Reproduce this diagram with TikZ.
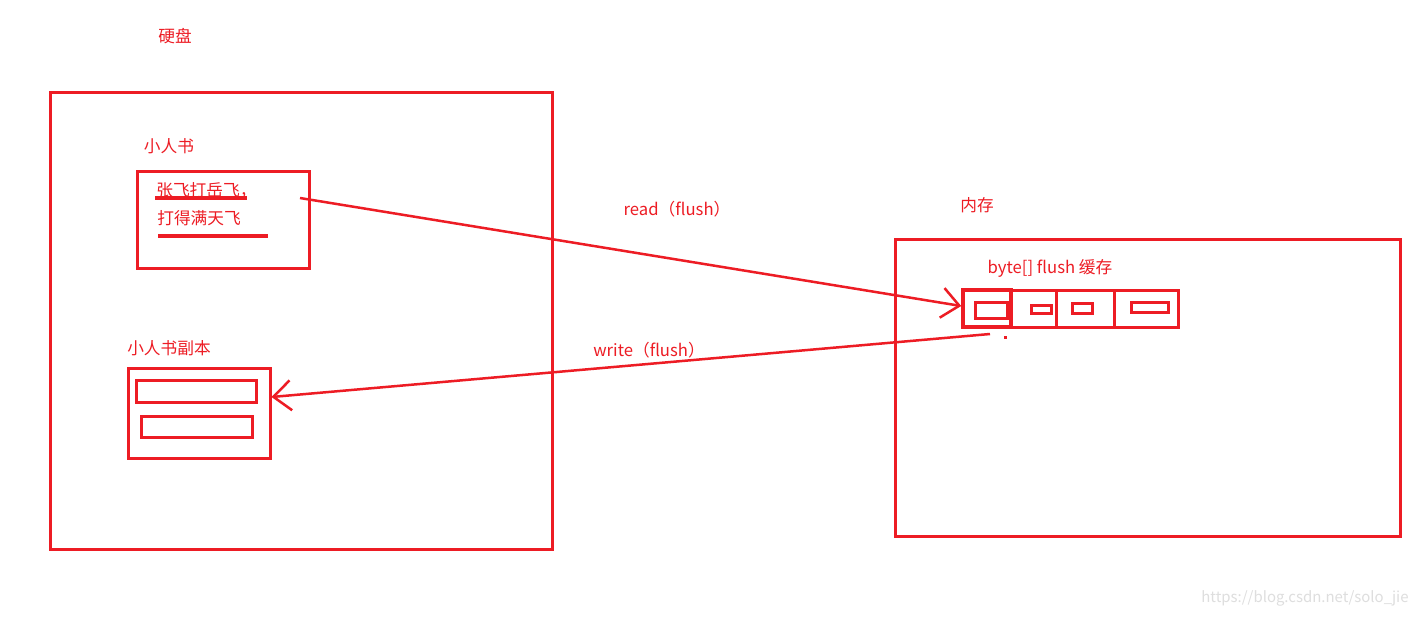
\documentclass[tikz,border=0pt]{standalone}
\usepackage{fontspec}
\newfontfamily\cjk{Noto Sans CJK SC}
\usetikzlibrary{arrows.meta, positioning}
\definecolor{paintred}{RGB}{237,28,36}

\begin{document}
\begin{tikzpicture}[
    x=0.02cm, y=-0.02cm,
    box/.style={draw=paintred, line width=0.06cm, inner sep=0pt},
    boxsize/.style 2 args={minimum width=#1*0.02cm, minimum height=#2*0.02cm},
    txt/.style={text=paintred, font=\cjk\fontsize{9.5pt}{11pt}\selectfont, inner sep=0pt},
    flow/.style={paintred, line width=0.05cm, -{Straight Barb[length=0.35cm, width=0.6cm]}},
    bar/.style={paintred, line width=0.08cm}
]
    \useasboundingbox[fill=white] (0,0) rectangle (1411,616);

    % hard disk
    \node[txt] (disklbl) at (175,36) {硬盘};
    \node[box, boxsize={502}{457}] (disk) at (301,320.5) {};

    \node[txt] (booklbl) at (169,146) {小人书};
    \node[box, boxsize={172}{97}] (book) at (223,219.5) {};
    \node[txt, anchor=west] (line1) at (156,190) {张飞打岳飞，};
    \node[txt, anchor=west] (line2) at (157,218) {打得满天飞};
    \draw[bar] (155,198) -- (247,198);
    \draw[bar] (158,236) -- (268,236);

    \node[txt] (copylbl) at (169,348) {小人书副本};
    \node[box, boxsize={142}{90}] (copy) at (199,413) {};
    \node[box, boxsize={120}{22}] (copyrow1) at (196,391) {};
    \node[box, boxsize={111}{21}] (copyrow2) at (196.5,426.5) {};

    % memory
    \node[txt] (memlbl) at (977,205) {内存};
    \node[box, boxsize={505}{297}] (mem) at (1147.5,387.5) {};
    \node[txt] (buflbl) at (1050,268) {byte[] flush 缓存};

    \node[box, line width=0.07cm, boxsize={48}{37}] (cell1) at (987,308.5) {};
    \node[box, boxsize={45}{37}] (cell2) at (1033.5,308.5) {};
    \node[box, boxsize={58}{37}] (cell3) at (1085,308.5) {};
    \node[box, boxsize={64}{37}] (cell4) at (1146.5,308.5) {};
    \node[box, boxsize={32}{16}] (slot1) at (991,310) {};
    \node[box, boxsize={20}{8}] (slot2) at (1041,309) {};
    \node[box, boxsize={20}{10}] (slot3) at (1082,308) {};
    \node[box, boxsize={37}{10}] (slot4) at (1149.5,307) {};
    \fill[paintred] (1004,336) rectangle (1007,339);

    % transfers
    \coordinate (readfrom) at (300,198);
    \coordinate (writefrom) at (990,334);
    \draw[flow] (readfrom) -- ([yshift=0.05cm]cell1.west);
    \draw[flow] (writefrom) -- ([yshift=0.32cm]copy.east);
    \node[txt] (readlbl) at (677,209) {read（flush）};
    \node[txt] (writelbl) at (649,350) {write（flush）};

    \node[txt, text=black!13, font=\cjk\fontsize{8.5pt}{10pt}\selectfont] (mark) at (1305,598) {https://blog.csdn.net/solo\_jie};
\end{tikzpicture}
\end{document}
